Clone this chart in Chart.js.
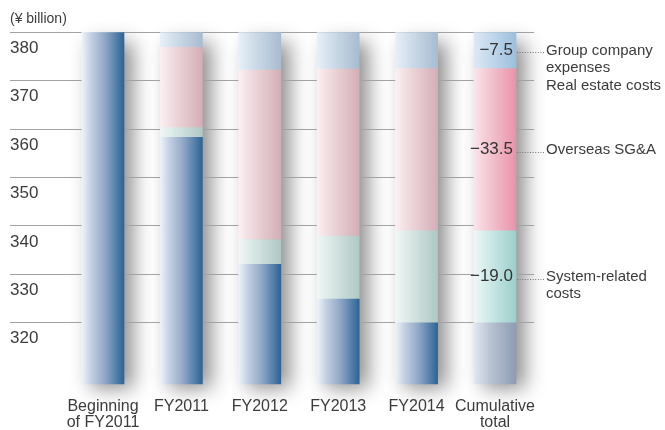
<!DOCTYPE html>
<html>
<head>
<meta charset="utf-8">
<script src="https://cdn.jsdelivr.net/npm/chart.js@4.4.1/dist/chart.umd.min.js"></script>
<style>
  html, body { margin: 0; padding: 0; background: #fff; }
  #wrap { width: 665px; height: 430px; position: relative; }
</style>
</head>
<body>
<div id="wrap"><canvas id="c"></canvas></div>
<script>
// Cost structure (¥ billion): remaining cost plus cumulative reductions by type
const categories = [['Beginning', 'of FY2011'], 'FY2011', 'FY2012', 'FY2013', 'FY2014', ['Cumulative', 'total']];
const remainingCost = [380.0, 358.3, 332.1, 324.9, 320.0, 320.0];
const systemCosts   = [0, 2.0, 5.1, 13.0, 19.0, 19.0];
const overseasSGA   = [0, 16.6, 35.0, 34.5, 33.5, 33.5];
const groupCompany  = [0, 3.1, 7.8, 7.6, 7.5, 7.5];
const yTickValues   = [320, 330, 340, 350, 360, 370, 380];
const unitLabel     = '(¥ billion)';
const groupNote     = ['Group company', 'expenses', 'Real estate costs'];
const overseasNote  = ['Overseas SG&A'];
const systemNote    = ['System-related', 'costs'];

const BAR = 42;
const TEXT = '#3c3c3c';
const FONT = "'Liberation Sans', Arial, Helvetica, sans-serif";
const LAST = categories.length - 1;

// horizontal gradient across one bar
function barGradient(ctx, stopsFaded, stopsStrong) {
  const chart = ctx.chart;
  const stops = ctx.dataIndex === LAST ? stopsStrong : stopsFaded;
  if (!chart.chartArea || !chart.scales.x) return stops[stops.length - 1][1];
  const cx = chart.scales.x.getPixelForValue(ctx.dataIndex);
  const g = chart.ctx.createLinearGradient(cx - BAR / 2, 0, cx + BAR / 2, 0);
  stops.forEach(([o, c]) => g.addColorStop(o, c));
  return g;
}

const palette = {
  base:     [[[0, '#eef2f8'], [0.2, '#c6d2e3'], [0.55, '#8fa7c6'], [1, '#2c6496']],
             [[0, '#e3e8f1'], [0.4, '#b8c2d2'], [1, '#8d9cb2']]],
  system:   [[[0, '#f1f7f6'], [0.3, '#dbe9e7'], [1, '#b0c8c5']],
             [[0, '#eef8f7'], [0.3, '#d3ecea'], [1, '#9bcfcb']]],
  overseas: [[[0, '#fbf0f2'], [0.3, '#efdade'], [1, '#d4aeb7']],
             [[0, '#fae5ea'], [0.3, '#f4cbd5'], [1, '#e893a9']]],
  group:    [[[0, '#e8f0f8'], [0.3, '#d2dfec'], [1, '#a8bcd0']],
             [[0, '#dde9f5'], [0.3, '#c9dcee'], [1, '#9cbfdd']]]
};

function ds(label, data, key) {
  return {
    label, data,
    backgroundColor: (c) => barGradient(c, palette[key][0], palette[key][1]),
    borderWidth: 0,
    barThickness: BAR,
    stack: 's'
  };
}

// soft drop shadow to the right of each column, drawn under the grid
const columnShadow = {
  id: 'columnShadow',
  beforeDraw(chart) {
    const { ctx, chartArea, scales } = chart;
    const OFF = 3000;
    ctx.save();
    ctx.shadowColor = 'rgba(0,0,0,0.45)';
    ctx.shadowBlur = 20;
    ctx.shadowOffsetX = OFF + 9;
    ctx.shadowOffsetY = 4;
    ctx.fillStyle = '#000';
    categories.forEach((_, i) => {
      const total = remainingCost[i] + systemCosts[i] + overseasSGA[i] + groupCompany[i];
      const top = scales.y.getPixelForValue(total);
      const cx = scales.x.getPixelForValue(i);
      ctx.fillRect(cx - BAR / 2 - OFF, top + 6, BAR, chartArea.bottom - top - 6);
    });
    ctx.restore();
  }
};

// unit label and the reduction notes beside the cumulative column
const notes = {
  id: 'notes',
  afterDatasetsDraw(chart) {
    const { ctx } = chart;
    ctx.save();
    ctx.fillStyle = TEXT;
    ctx.textBaseline = 'middle';
    ctx.font = '14px ' + FONT;
    ctx.textAlign = 'left';
    ctx.fillText(unitLabel, 10, 19);

    const items = [[3, groupNote], [2, overseasNote], [1, systemNote]];
    items.forEach(([di, lines]) => {
      const el = chart.getDatasetMeta(di).data[LAST];
      const value = chart.data.datasets[di].data[LAST];
      const yc = (el.y + el.base) / 2;
      const xr = el.x + el.width / 2;
      ctx.font = '17px ' + FONT;
      ctx.textAlign = 'right';
      ctx.fillStyle = '#333';
      ctx.fillText('\u2212' + value.toFixed(1), xr - 3, yc);
      // dotted leader
      ctx.strokeStyle = '#777';
      ctx.lineWidth = 1;
      ctx.setLineDash([1, 1.6]);
      ctx.beginPath();
      ctx.moveTo(xr + 1, Math.round(yc + 2) + 0.5);
      ctx.lineTo(xr + 28, Math.round(yc + 2) + 0.5);
      ctx.stroke();
      ctx.setLineDash([]);
      ctx.font = '15px ' + FONT;
      ctx.textAlign = 'left';
      ctx.fillStyle = TEXT;
      lines.forEach((t, k) => ctx.fillText(t, xr + 30, yc + k * 17.5));
    });
    ctx.restore();
  }
};

Chart.defaults.font.family = FONT;

new Chart(document.getElementById('c'), {
  type: 'bar',
  data: {
    labels: categories,
    datasets: [
      ds('Remaining cost', remainingCost, 'base'),
      ds('System-related costs', systemCosts, 'system'),
      ds('Overseas SG&A', overseasSGA, 'overseas'),
      ds('Group company expenses / Real estate costs', groupCompany, 'group')
    ]
  },
  options: {
    responsive: true,
    maintainAspectRatio: false,
    animation: false,
    layout: { padding: { left: 10, right: 130.8, top: 32.3, bottom: 0 } },
    plugins: { legend: { display: false }, tooltip: { enabled: false } },
    scales: {
      x: {
        stacked: true,
        offset: true,
        grid: { display: false, drawTicks: false },
        border: { display: false },
        ticks: { color: TEXT, font: { size: 16, lineHeight: 1.0 }, padding: 14, maxRotation: 0, autoSkip: false },
        afterFit(s) { s.height = 45.7; }
      },
      y: {
        stacked: true,
        min: 307.3,
        max: 380,
        afterBuildTicks(s) { s.ticks = yTickValues.map(v => ({ value: v })); },
        afterFit(s) { s.width = 53.8; },
        grid: { color: '#a2a2a2', lineWidth: 1, drawTicks: true, tickLength: 53.8 },
        border: { display: false },
        ticks: { crossAlign: 'far', labelOffset: 16, padding: 0, color: TEXT, font: { size: 17 } }
      }
    }
  },
  plugins: [columnShadow, notes]
});
</script>
</body>
</html>
